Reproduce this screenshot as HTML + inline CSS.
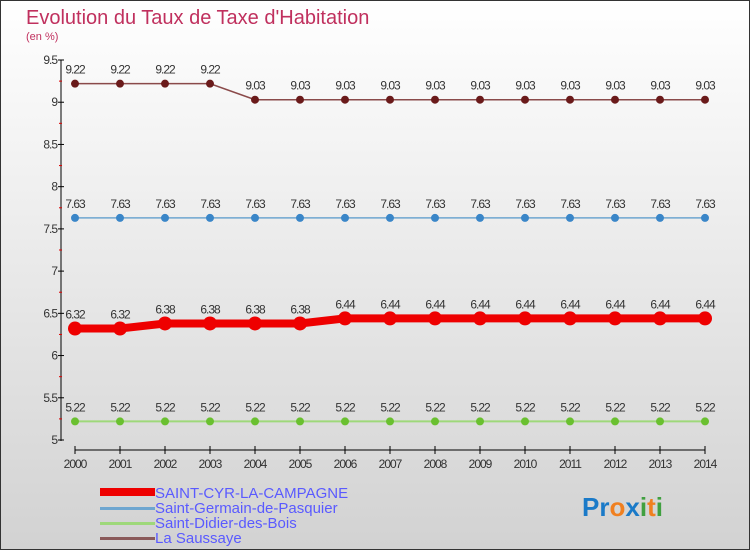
<!DOCTYPE html>
<html><head><meta charset="utf-8"><style>
body{margin:0;width:750px;height:550px;overflow:hidden;font-family:"Liberation Sans",sans-serif}
svg{display:block}
</style></head><body>
<svg id="c" width="750" height="550" xmlns="http://www.w3.org/2000/svg">
<defs><linearGradient id="bg" x1="0" y1="0" x2="0" y2="1"><stop offset="0" stop-color="#ffffff"/><stop offset="1" stop-color="#d2d2d2"/></linearGradient></defs>
<rect x="0.5" y="0.5" width="749" height="549" fill="url(#bg)" stroke="#333"/>
<text x="26" y="24" font-size="20" fill="#c0305e">Evolution du Taux de Taxe d'Habitation</text>
<text x="26" y="40" font-size="11" fill="#c0305e">(en %)</text>
<g id="axes"></g><g id="series"></g>
<g id="legend" font-size="15" fill="#5a5aff">
<rect x="100" y="488" width="55" height="8" fill="#e00"/>
<text x="155" y="498" fill="#5a5aff">SAINT-CYR-LA-CAMPAGNE</text>
<rect x="100" y="507" width="55" height="3" fill="#6ea6d0"/>
<text x="155" y="513" fill="#5a5aff">Saint-Germain-de-Pasquier</text>
<rect x="100" y="522" width="55" height="3" fill="#9ed87a"/>
<text x="155" y="528" fill="#5a5aff">Saint-Didier-des-Bois</text>
<rect x="100" y="537" width="55" height="3" fill="#8a5a5a"/>
<text x="155" y="543" fill="#5a5aff">La Saussaye</text>
</g>
<text x="582" y="516" font-size="26" font-weight="bold"><tspan fill="#1a7ac8">Pr</tspan><tspan fill="#f08020">o</tspan><tspan fill="#1a7ac8">x</tspan><tspan fill="#40a040">i</tspan><tspan fill="#f08020">t</tspan><tspan fill="#40a040">i</tspan></text>
</svg>
<script>
const years=[2000,2001,2002,2003,2004,2005,2006,2007,2008,2009,2010,2011,2012,2013,2014];
const yTicks=[5,5.5,6,6.5,7,7.5,8,8.5,9,9.5];
const saintCyr=[6.32,6.32,6.38,6.38,6.38,6.38,6.44,6.44,6.44,6.44,6.44,6.44,6.44,6.44,6.44];
const saintGermain=[7.63,7.63,7.63,7.63,7.63,7.63,7.63,7.63,7.63,7.63,7.63,7.63,7.63,7.63,7.63];
const saintDidier=[5.22,5.22,5.22,5.22,5.22,5.22,5.22,5.22,5.22,5.22,5.22,5.22,5.22,5.22,5.22];
const laSaussaye=[9.22,9.22,9.22,9.22,9.03,9.03,9.03,9.03,9.03,9.03,9.03,9.03,9.03,9.03,9.03];
const NS="http://www.w3.org/2000/svg";
const xS=i=>75+i*(630/(years.length-1));
const yS=v=>440-(v-5)*(380/4.5);
function mk(t,a,p){const e=document.createElementNS(NS,t);for(const k in a)e.setAttribute(k,a[k]);p.appendChild(e);return e;}
const ax=document.getElementById('axes');
let e=mk('line',{x1:61,y1:60,x2:61,y2:441,stroke:'#000'},ax);


e=mk('line',{x1:75,y1:450,x2:705,y2:450,stroke:'#000'},ax);


yTicks.forEach((v,i)=>{const y=yS(v);
 mk('line',{x1:58,y1:y,x2:64,y2:y,stroke:'#000'},ax);
 if(i<yTicks.length-1)mk('line',{x1:59,y1:yS(v+0.25),x2:62,y2:yS(v+0.25),stroke:'#d00'},ax);
 const t=mk('text',{x:57,y:y+4,'font-size':12,fill:'#333','text-anchor':'end','letter-spacing':'-1'},ax);t.textContent=String(v);
 
 });
years.forEach((yr,i)=>{const x=xS(i);
 mk('line',{x1:x,y1:446,x2:x,y2:454,stroke:'#000'},ax);
 const t=mk('text',{x:x,y:468,'font-size':12,fill:'#333','text-anchor':'middle','letter-spacing':'-1'},ax);t.textContent=String(yr);
 
 });
const sg=document.getElementById('series');
function series(vals,color,w,r,dot,name){
 const g=mk('g',{},sg);
 
 
 mk('polyline',{points:vals.map((v,i)=>xS(i)+','+yS(v)).join(' '),fill:'none',stroke:color,'stroke-width':w},g);
 vals.forEach((v,i)=>{const c=mk('circle',{cx:xS(i),cy:yS(v),r:r,fill:dot},g);
  
  
  const t=mk('text',{x:xS(i),y:yS(v)-10,'font-size':12,fill:'#333','text-anchor':'middle','letter-spacing':'-1'},g);
  t.textContent=v.toFixed(2);
  
  });
}
series(laSaussaye,'#8a4a4a',1.5,4,'#6a1a1a','la-saussaye');
series(saintGermain,'#6ea6d0',1.5,4,'#3a86c8','saint-germain');
series(saintDidier,'#9ed87a',2,4,'#6ac030','saint-didier');
series(saintCyr,'#e00',8,7,'#e00','saint-cyr');
</script>
</body></html>
